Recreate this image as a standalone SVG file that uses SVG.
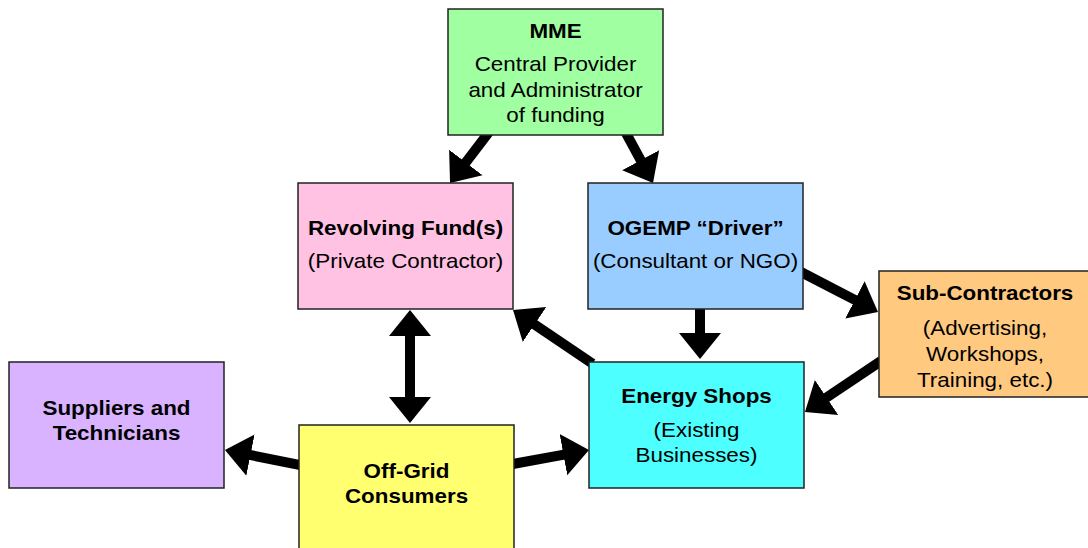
<svg xmlns="http://www.w3.org/2000/svg" width="1088" height="548" viewBox="0 0 1088 548">
<style>
.box{stroke:#222;stroke-width:1.5}
.t{font-family:"Liberation Sans",Arial,sans-serif;font-size:20px;fill:#000;text-anchor:middle}
.b{font-weight:bold}
.c{fill:none;stroke:#000;stroke-width:10}
</style>
<defs>
<marker id="ah" markerUnits="userSpaceOnUse" markerWidth="30" markerHeight="46" viewBox="0 -23 30 46" refX="2" refY="0" orient="auto-start-reverse">
<path d="M0,-21 L26,0 L0,21 z" fill="#000"/>
</marker>
</defs>
<rect width="1088" height="548" fill="#fff"/>
<g id="connectors">
<line class="c" x1="489" y1="132" x2="464.6" y2="164" marker-end="url(#ah)"/>
<line class="c" x1="625.6" y1="132.4" x2="641.6" y2="161.9" marker-end="url(#ah)"/>
<line class="c" x1="800" y1="271.5" x2="856.7" y2="300.9" marker-end="url(#ah)"/>
<line class="c" x1="700" y1="306" x2="700" y2="335" marker-end="url(#ah)"/>
<line class="c" x1="592.5" y1="363.7" x2="532.9" y2="323.4" marker-end="url(#ah)"/>
<line class="c" x1="881" y1="361" x2="824.9" y2="398.6" marker-end="url(#ah)"/>
<line class="c" x1="410" y1="334" x2="410" y2="399" marker-start="url(#ah)" marker-end="url(#ah)"/>
<line class="c" x1="510" y1="464.5" x2="565.4" y2="454.3" marker-end="url(#ah)"/>
<line class="c" x1="303" y1="465.6" x2="248.5" y2="454.7" marker-end="url(#ah)"/>
</g>
<g id="mme">
<rect class="box" x="448" y="9" width="215" height="126" fill="#A0FFA0"/>
<text class="t b" transform="translate(555.5 38) scale(1.12 1)">MME</text>
<text class="t" transform="translate(555.5 71) scale(1.12 1)">Central Provider</text>
<text class="t" transform="translate(555.5 97) scale(1.12 1)">and Administrator</text>
<text class="t" transform="translate(555.5 122) scale(1.12 1)">of funding</text>
</g>
<g id="revolving">
<rect class="box" x="298" y="183" width="215" height="126" fill="#FFC2E2"/>
<text class="t b" transform="translate(405.5 235) scale(1.12 1)">Revolving Fund(s)</text>
<text class="t" transform="translate(405.5 268) scale(1.12 1)">(Private Contractor)</text>
</g>
<g id="ogemp">
<rect class="box" x="588" y="183" width="215" height="126" fill="#99CCFF"/>
<text class="t b" transform="translate(695.5 235) scale(1.12 1)">OGEMP “Driver”</text>
<text class="t" transform="translate(695.5 268) scale(1.12 1)">(Consultant or NGO)</text>
</g>
<g id="subcontractors">
<rect class="box" x="879" y="271" width="215" height="126" fill="#FFC980"/>
<text class="t b" transform="translate(985 300) scale(1.12 1)">Sub-Contractors</text>
<text class="t" transform="translate(985 335) scale(1.12 1)">(Advertising,</text>
<text class="t" transform="translate(985 361) scale(1.12 1)">Workshops,</text>
<text class="t" transform="translate(985 387) scale(1.12 1)">Training, etc.)</text>
</g>
<g id="suppliers">
<rect class="box" x="9" y="362" width="215" height="126" fill="#D9B3FF"/>
<text class="t b" transform="translate(116.5 415) scale(1.12 1)">Suppliers and</text>
<text class="t b" transform="translate(116.5 440) scale(1.12 1)">Technicians</text>
</g>
<g id="offgrid">
<rect class="box" x="299" y="425" width="215" height="126" fill="#FFFF70"/>
<text class="t b" transform="translate(406.5 478) scale(1.12 1)">Off-Grid</text>
<text class="t b" transform="translate(406.5 503) scale(1.12 1)">Consumers</text>
</g>
<g id="energyshops">
<rect class="box" x="589" y="362" width="215" height="126" fill="#4DFFFF"/>
<text class="t b" transform="translate(696.5 403) scale(1.12 1)">Energy Shops</text>
<text class="t" transform="translate(696.5 437) scale(1.12 1)">(Existing</text>
<text class="t" transform="translate(696.5 462) scale(1.12 1)">Businesses)</text>
</g>
</svg>
